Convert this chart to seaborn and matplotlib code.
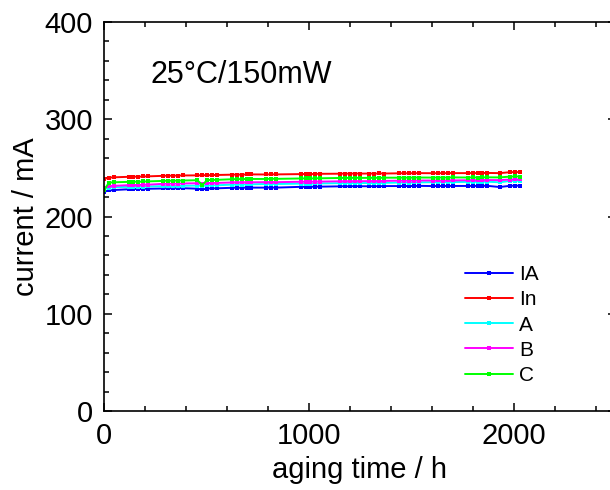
import matplotlib
matplotlib.use("Agg")
import matplotlib.pyplot as plt
from matplotlib.ticker import MultipleLocator
import numpy as np
import pandas as pd
import seaborn as sns

# ---- data ----
time_h = [0, 24, 48,
          120, 144, 168, 192, 216,
          288, 312, 336, 360, 384,
          456, 480, 504, 528, 552,
          624, 648, 672, 696, 720,
          792, 816, 840,
          960, 984, 1008, 1032, 1056,
          1152, 1176, 1200, 1224, 1248,
          1296, 1320, 1344, 1368,
          1440, 1464, 1488, 1512, 1536,
          1608, 1632, 1656, 1680, 1704,
          1776, 1800, 1824, 1848, 1868,
          1932,
          1980, 2008, 2032]

IA = [225.5, 226.8, 227.2,
      228.0, 228.3, 228.2, 228.4, 228.5,
      228.8, 229.0, 228.9, 229.1, 229.1,
      228.6, 227.8, 228.7, 228.9, 229.0,
      229.5, 229.6, 229.5, 229.7, 229.7,
      229.7, 229.8, 229.7,
      230.5, 230.6, 230.5, 230.7, 230.7,
      231.0, 231.1, 231.0, 231.2, 231.1,
      231.1, 231.2, 231.1, 231.3,
      231.3, 231.4, 231.3, 231.4, 231.5,
      231.3, 231.4, 231.3, 231.5, 231.4,
      231.4, 231.5, 231.4, 231.5, 231.6,
      230.3,
      231.5, 231.7, 231.6]

In_ = [238.5, 240.0, 240.3,
       240.8, 241.0, 240.9, 241.2, 241.3,
       241.8, 242.0, 241.9, 242.1, 242.2,
       242.3, 242.5, 242.4, 242.6, 242.7,
       243.0, 243.1, 243.0, 243.2, 243.3,
       243.2, 243.4, 243.3,
       243.6, 243.7, 243.6, 243.8, 243.9,
       244.0, 244.1, 244.0, 244.2, 244.1,
       244.2, 244.0, 244.3, 244.2,
       244.4, 244.5, 244.4, 244.5, 244.6,
       244.5, 244.6, 244.5, 244.7, 244.6,
       244.6, 244.7, 244.6, 244.7, 244.8,
       244.6,
       245.5, 245.7, 245.6]

A = [228.0, 229.8, 230.1,
     230.5, 230.7, 230.6, 230.8, 230.9,
     231.2, 231.4, 231.3, 231.5, 231.6,
     231.8, 231.5, 232.0, 232.1, 232.1,
     232.8, 233.0, 232.9, 233.1, 233.1,
     233.4, 233.5, 233.4,
     233.8, 233.9, 233.8, 234.0, 234.0,
     234.3, 234.4, 234.3, 234.5, 234.4,
     234.4, 234.5, 234.4, 234.6,
     234.9, 235.0, 234.9, 235.0, 235.1,
     235.3, 235.4, 235.3, 235.5, 235.4,
     235.6, 235.7, 235.6, 235.7, 235.8,
     235.2,
     236.5, 236.7, 236.6]

B = [229.5, 231.2, 231.5,
     232.2, 232.4, 232.3, 232.6, 232.7,
     233.6, 233.8, 233.7, 233.9, 234.0,
     234.2, 233.8, 234.4, 234.5, 234.5,
     235.0, 235.1, 235.0, 235.2, 235.2,
     235.3, 235.4, 235.3,
     235.7, 235.8, 235.7, 235.9, 235.9,
     236.2, 236.3, 236.2, 236.4, 236.3,
     236.4, 236.5, 236.4, 236.6,
     236.8, 236.9, 236.8, 236.9, 237.0,
     237.0, 237.1, 237.0, 237.2, 237.1,
     237.3, 237.4, 237.3, 237.4, 237.5,
     237.4,
     238.0, 238.2, 238.1]

C = [227.0, 234.8, 235.2,
     235.6, 235.8, 235.7, 236.0, 236.1,
     236.6, 236.8, 236.7, 236.9, 237.0,
     237.3, 232.4, 237.5, 237.6, 237.7,
     238.3, 238.5, 238.4, 238.6, 238.6,
     238.6, 238.8, 238.7,
     239.1, 239.2, 239.1, 239.3, 239.3,
     239.6, 239.7, 239.6, 239.8, 239.7,
     239.7, 239.8, 239.7, 239.9,
     239.9, 240.0, 239.9, 240.0, 240.1,
     240.0, 240.1, 240.0, 240.1, 240.2,
     240.1, 240.2, 240.1, 240.2, 240.3,
     240.2,
     241.0, 241.2, 241.1]

series_names = ["IA", "In", "A", "B", "C"]
series_values = [IA, In_, A, B, C]
series_colors = ["#0000FF", "#FF0000", "#00FFFF", "#FF00FF", "#00FF00"]

annotation = "25°C/150mW"
xlabel = "aging time / h"
ylabel = "current / mA"

# ---- style ----
sns.set_theme(style="ticks")
plt.rcParams["font.family"] = ["Liberation Sans", "DejaVu Sans"]
for k in ["text.color", "axes.labelcolor", "xtick.color", "ytick.color",
          "axes.edgecolor"]:
    plt.rcParams[k] = "black"

fig = plt.figure(figsize=(6.1, 4.9), dpi=100)
W, H = 610, 490
ax = fig.add_axes([104 / W, 1 - 411 / H, (616 - 104) / W, (411 - 22) / H])

df = pd.DataFrame({
    "time": np.tile(time_h, len(series_names)),
    "current": np.concatenate(series_values),
    "series": np.repeat(series_names, len(time_h)),
})

for name, color in zip(series_names, series_colors):
    sub = df[df["series"] == name]
    sns.lineplot(data=sub, x="time", y="current", ax=ax, color=color,
                 marker="s", markersize=3.4, markeredgewidth=0,
                 linewidth=1.4, label=name, sort=False, estimator=None)

ax.set_xlim(0, 2500)
ax.set_ylim(0, 400)
ax.xaxis.set_major_locator(MultipleLocator(1000))
ax.xaxis.set_minor_locator(MultipleLocator(200))
ax.yaxis.set_major_locator(MultipleLocator(100))
ax.yaxis.set_minor_locator(MultipleLocator(20))

fs = 21
ax.tick_params(which="both", direction="in", top=True, right=True,
               color="black", labelcolor="black", width=1.1)
ax.tick_params(which="major", length=6, labelsize=fs, pad=8)
ax.tick_params(which="minor", length=3.4)
for s in ax.spines.values():
    s.set_linewidth(1.2)
    s.set_color("black")

ax.set_xlabel(xlabel, fontsize=fs, labelpad=4, color="black")
ax.set_ylabel(ylabel, fontsize=fs, labelpad=3, color="black")

ax.text(46 / 512, (411 - 75) / 389, annotation, transform=ax.transAxes,
        fontsize=22, ha="left", va="center", color="black")

leg = ax.legend(loc="upper left", bbox_to_anchor=(465 / W, 1 - 265 / H),
                bbox_transform=fig.transFigure, frameon=False, fontsize=15,
                borderpad=0, borderaxespad=0, handlelength=2.3,
                handletextpad=0.3, labelspacing=0.3)
for t in leg.get_texts():
    t.set_color("black")

fig.savefig("out.png", dpi=100)
